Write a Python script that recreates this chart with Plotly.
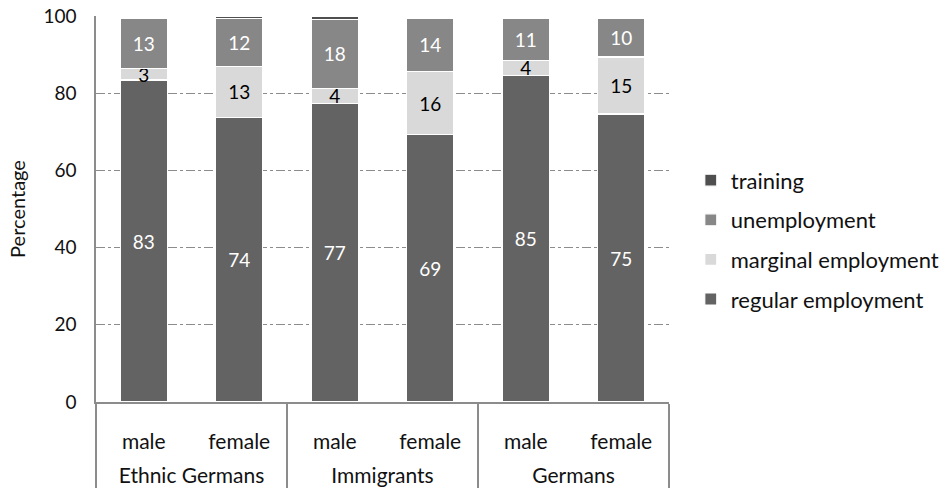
import plotly.graph_objects as go

# Employment status by origin and sex (percent of each group)
groups = ["Ethnic Germans", "Ethnic Germans", "Immigrants", "Immigrants", "Germans", "Germans"]
sexes = ["male", "female", "male", "female", "male", "female"]

regular_employment = [83.4, 73.8, 77.3, 69.3, 84.6, 74.6]
marginal_employment = [3.1, 13.2, 4.0, 16.3, 3.9, 14.8]
unemployment = [13.0, 12.3, 17.8, 13.9, 11.0, 10.1]
training = [0.5, 0.7, 0.9, 0.5, 0.5, 0.5]

FONT = "Lato, Carlito, Calibri, sans-serif"
NUM = 19   # numbers
TXT = 22   # words
INK = "#111111"

# outer category row sits one line lower than the inner row
group_row = ["<br>" + g for g in groups]

series = [
    # name, values, fill, label colour, labelled, legend rank
    ("regular employment", regular_employment, "#636363", "white", True, 4),
    ("marginal employment", marginal_employment, "#d9d9d9", "black", True, 3),
    ("unemployment", unemployment, "#878787", "white", True, 2),
    ("training", training, "#4f4f4f", "white", False, 1),
]

fig = go.Figure()
for name, vals, color, tcolor, labelled, rank in series:
    fig.add_trace(go.Bar(
        name=name,
        legendgroup=name,
        legendrank=rank,
        x=[group_row, sexes],
        y=vals,
        marker=dict(color=color, line=dict(color="white", width=1.2)),
        texttemplate="%{y:.0f}" if labelled else None,
        textposition="inside" if labelled else "none",
        insidetextanchor="middle",
        constraintext="none",
        textangle=0,
        textfont=dict(family=FONT, size=NUM, color=tcolor),
        hoverinfo="skip",
    ))

fig.update_layout(
    barmode="stack",
    bargap=0.51,
    width=942,
    height=492,
    margin=dict(l=96, r=273, t=16, b=90, autoexpand=False),
    paper_bgcolor="white",
    plot_bgcolor="white",
    font=dict(family=FONT, size=TXT, color=INK),
    showlegend=True,
    legend=dict(
        x=1.038, xanchor="left",
        y=0.42, yanchor="middle",
        traceorder="grouped",
        tracegroupgap=8,
        font=dict(family=FONT, size=TXT, color=INK),
        itemwidth=30,
    ),
)

fig.update_yaxes(
    range=[0, 100],
    tickvals=[0, 20, 40, 60, 80, 100],
    automargin=False,
    showgrid=True,
    gridcolor="#8c8c8c",
    griddash="dashdot",
    gridwidth=1,
    zeroline=False,
    showline=True,
    linecolor="#8c8c8c",
    linewidth=1.5,
    ticks="",
    ticklabelstandoff=14,
    tickfont=dict(family=FONT, size=NUM, color=INK),
    title=dict(text="Percentage", font=dict(family=FONT, size=TXT - 2, color=INK), standoff=12),
)

fig.update_xaxes(
    type="multicategory",
    automargin=False,
    showline=True,
    linecolor="#8c8c8c",
    linewidth=1.5,
    showgrid=False,
    ticks="",
    ticklabelstandoff=20,
    showdividers=True,
    dividercolor="#8c8c8c",
    dividerwidth=1.5,
    tickfont=dict(family=FONT, size=TXT - 1, color=INK),
)

fig.write_html("out.html")
